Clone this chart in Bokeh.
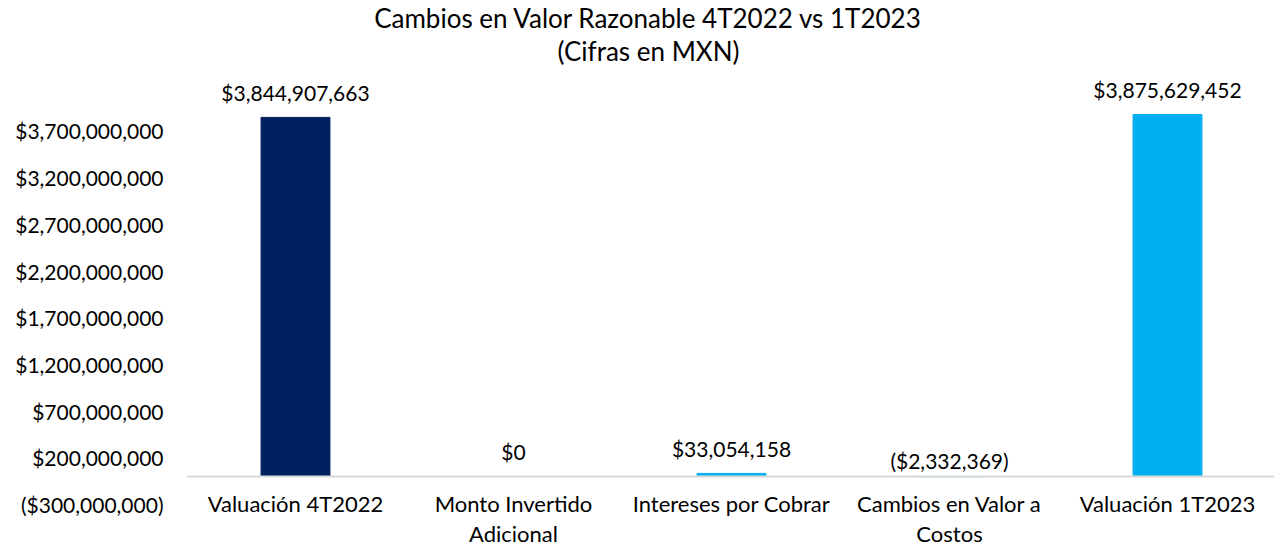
from bokeh.plotting import figure
from bokeh.models import ColumnDataSource, LinearAxis, FixedTicker, Range1d, LabelSet, Label
from bokeh.core.properties import value
from bokeh.embed import file_html
from bokeh.resources import INLINE

# ---- data ----
categories = ["Valuación 4T2022", "Monto Invertido\nAdicional", "Intereses por Cobrar",
              "Cambios en Valor a\nCostos", "Valuación 1T2023"]
values = [3844907663, 0, 33054158, -2332369, 3875629452]
bar_colors = ["#002060", "#00B0F0", "#00B0F0", "#00B0F0", "#00B0F0"]
y_ticks = [-300000000, 200000000, 700000000, 1200000000, 1700000000,
           2200000000, 2700000000, 3200000000, 3700000000]
title_lines = ["Cambios en Valor Razonable 4T2022 vs 1T2023", "(Cifras en MXN)"]


def money(v):
    s = "${:,.0f}".format(abs(v))
    return "(" + s + ")" if v < 0 else s


FONT = "Lato"
W, H = 1274, 546
LEFT = 186
PX_PER_UNIT = 218.0
ZERO_Y = 476          # pixel row of the zero line
PX_PER_VAL = 0.0934e-6

x_end = -0.5 + (W - LEFT) / PX_PER_UNIT
y_start = -(H - ZERO_Y) / PX_PER_VAL
y_end = ZERO_Y / PX_PER_VAL

p = figure(width=W, height=H, output_backend="svg", toolbar_location=None,
           x_axis_location=None, y_axis_location=None,
           x_range=Range1d(-0.5, x_end), y_range=Range1d(y_start, y_end),
           min_border_left=LEFT, min_border_right=0, min_border_top=0,
           min_border_bottom=0, outline_line_color=None,
           background_fill_color="white", border_fill_color="white")
p.grid.visible = False

xs = list(range(len(categories)))
src = ColumnDataSource(dict(
    x=xs,
    top=values,
    color=bar_colors,
    label_y=[max(v, 0) for v in values],
    label=[money(v) for v in values],
    label_off=[25 if v >= 0 else 16 for v in values],
))

p.vbar(x="x", top="top", bottom=0, width=0.316, color="color", source=src)

labels = LabelSet(x="x", y="label_y", text="label", y_offset="label_off", source=src,
                  text_align="center", text_baseline="middle",
                  text_font=value(FONT), text_font_size=value("21px"), text_color="black")
p.add_layout(labels)

xaxis = LinearAxis(fixed_location=0, ticker=FixedTicker(ticks=xs),
                   major_label_overrides={i: c for i, c in enumerate(categories)},
                   axis_line_color="#D9D9D9", axis_line_width=2,
                   major_tick_line_color=None, minor_tick_line_color=None,
                   major_tick_out=0, major_tick_in=0, major_label_standoff=13,
                   major_label_text_font=FONT, major_label_text_font_size="22px",
                   major_label_text_color="black", major_label_text_line_height=1.12)
p.add_layout(xaxis, "below")

yaxis = LinearAxis(ticker=FixedTicker(ticks=y_ticks),
                   major_label_overrides={t: money(t) for t in y_ticks},
                   axis_line_color=None, major_tick_line_color=None,
                   minor_tick_line_color=None, major_tick_out=0, major_tick_in=0,
                   major_label_standoff=23, major_label_text_font=FONT,
                   major_label_text_font_size="21px", major_label_text_color="black")
p.add_layout(yaxis, "left")

title_cx = 648
for line, cy in zip(title_lines, [17, 50]):
    p.add_layout(Label(x=title_cx - LEFT, y=H - cy, x_units="screen", y_units="screen",
                       text=line, text_align="center", text_baseline="middle",
                       text_font=FONT, text_font_size="26px", text_color="black"))

open("out.html", "w").write(file_html(p, INLINE))
